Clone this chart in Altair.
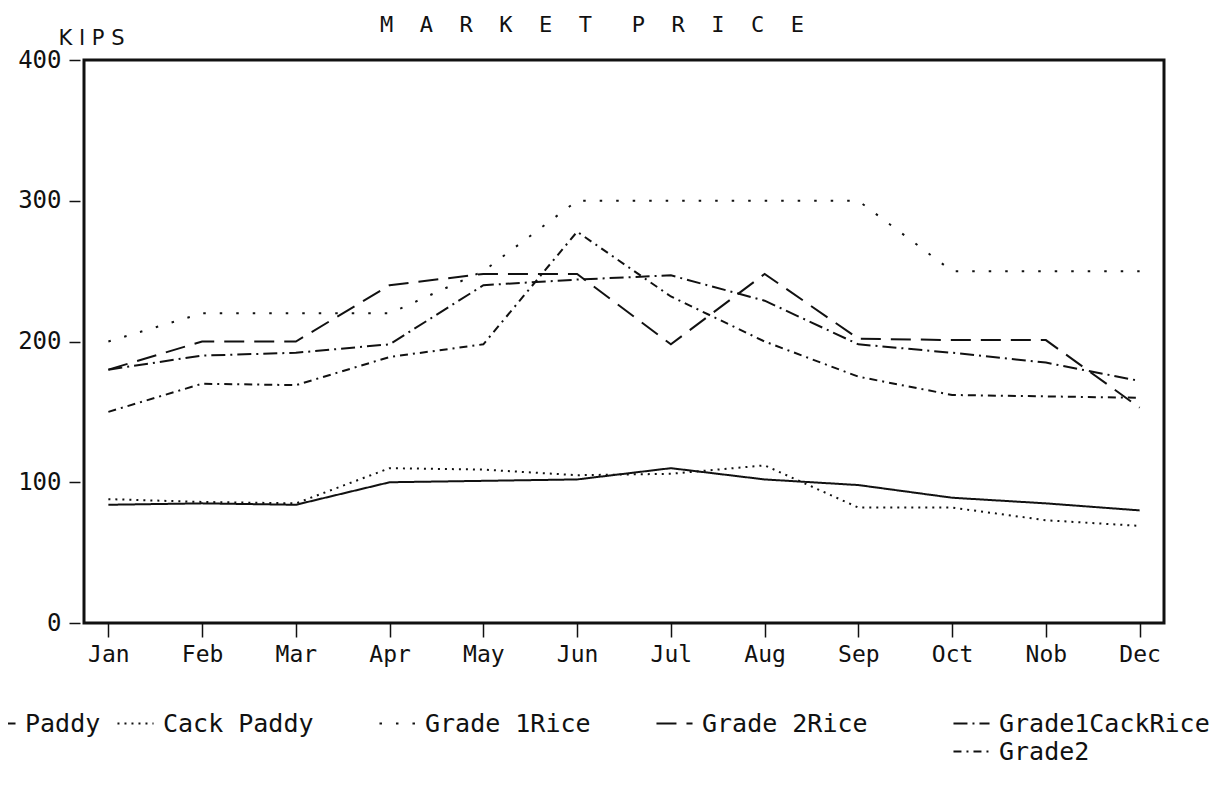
import altair as alt
import pandas as pd

months = ["Jan", "Feb", "Mar", "Apr", "May", "Jun", "Jul", "Aug", "Sep", "Oct", "Nob", "Dec"]

paddy = [84, 85, 84, 100, 101, 102, 110, 102, 98, 89, 85, 80]
cack_paddy = [88, 86, 85, 110, 109, 105, 106, 112, 82, 82, 73, 69]
grade1_rice = [200, 220, 220, 220, 250, 300, 300, 300, 300, 250, 250, 250]
grade2_rice = [180, 200, 200, 240, 248, 248, 198, 248, 202, 201, 201, 153]
grade1_cack_rice = [180, 190, 192, 198, 240, 244, 247, 229, 198, 192, 185, 172]
grade2 = [150, 170, 169, 189, 198, 278, 232, 200, 175, 162, 161, 160]

series_names = ["Paddy", "Cack Paddy", "Grade 1Rice", "Grade 2Rice", "Grade1CackRice", "Grade2"]
series_values = [paddy, cack_paddy, grade1_rice, grade2_rice, grade1_cack_rice, grade2]
y_ticks = [0, 100, 200, 300, 400]

# styles (not data)
dashes = [[1, 0], [2, 5], [2.5, 14], [20, 10], [14, 5, 2, 5], [8, 5, 2, 5]]
legend_pos = [(-106, 644), (32, 644), (294, 644), (571, 644), (868, 644), (868, 672)]

INK = "#111111"
MONO = "DejaVu Sans Mono"

x_enc = alt.X(
    "month:N",
    sort=months,
    scale=alt.Scale(type="point", padding=0.26),
    axis=alt.Axis(
        title=None, labelAngle=0, labelFont=MONO, labelFontSize=23, labelColor=INK,
        tickSize=14, tickColor=INK, tickWidth=1.5, domain=False, grid=False, labelPadding=6,
    ),
)
y_enc = alt.Y(
    "value:Q",
    scale=alt.Scale(domain=[0, 400], nice=False, zero=True),
    axis=alt.Axis(
        values=y_ticks, labelFont=MONO, labelFontSize=24, labelColor=INK,
        tickSize=11, tickColor=INK, tickWidth=1.5, domain=False, grid=False,
        labelPadding=8, offset=4,
        title="K I P S", titleAngle=0, titleAlign="left", titleBaseline="alphabetic",
        titleX=-22, titleY=-16, titleFont="DejaVu Sans", titleFontSize=21,
        titleFontWeight="normal", titleColor=INK,
    ),
)

layers = []
for name, vals, dash, (lx, ly) in zip(series_names, series_values, dashes, legend_pos):
    df = pd.DataFrame({"month": months, "value": vals, "series": name})
    legend = alt.Legend(
        orient="none", legendX=lx, legendY=ly, title=None, direction="horizontal",
        symbolType="stroke", symbolSize=1300, symbolStrokeWidth=2, symbolStrokeColor=INK,
        labelFont=MONO, labelFontSize=25, labelColor=INK, labelOffset=8,
        padding=0, labelLimit=400,
    )
    layer = alt.Chart(df).mark_line(color=INK, strokeWidth=2).encode(
        x=x_enc,
        y=y_enc,
        strokeDash=alt.StrokeDash(
            "series:N", scale=alt.Scale(domain=[name], range=[dash]), legend=legend
        ),
    )
    layers.append(layer)

sp = "\u00a0\u00a0"
title_text = sp.join(list("MARKET")) + "\u00a0\u00a0\u00a0" + sp.join(list("PRICE"))

chart = (
    alt.layer(*layers)
    .resolve_scale(strokeDash="independent")
    .resolve_legend(strokeDash="independent")
    .properties(
        width=1080,
        height=563,
        autosize=alt.AutoSizeParams(type="none"),
        padding={"left": 76, "top": 52, "right": 45, "bottom": 160},
        title=alt.TitleParams(
            title_text, font=MONO, fontSize=22, fontWeight="normal",
            anchor="middle", dx=-32, dy=14, color=INK,
        ),
        background="white",
    )
    .configure_view(stroke=INK, strokeWidth=3)
)

chart.save("out.html", embed_options={"renderer": "svg", "actions": False})
